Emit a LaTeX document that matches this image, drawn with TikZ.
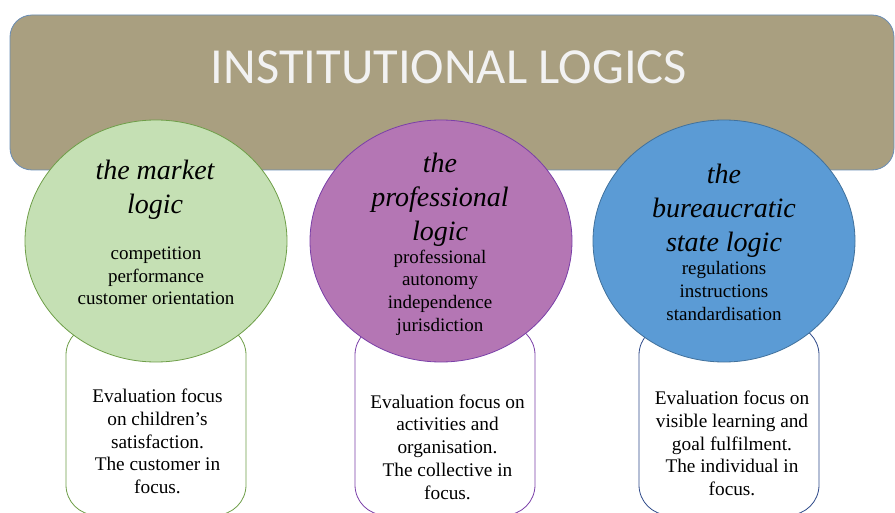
\documentclass[tikz,border=0pt]{standalone}
\usepackage{fontspec}
\setmainfont{Liberation Serif}
\newfontfamily\titlefont{Carlito}
\usetikzlibrary{shapes.geometric}
\definecolor{bannerfill}{HTML}{A99F80}
\definecolor{bannerline}{HTML}{6A8DB5}
\definecolor{greenfill}{HTML}{C5E0B4}
\definecolor{greenline}{HTML}{6E9E48}
\definecolor{purplefill}{HTML}{B476B4}
\definecolor{purpleline}{HTML}{7A3FA8}
\definecolor{bluefill}{HTML}{5B9BD5}
\definecolor{blueline}{HTML}{41719C}
\definecolor{boxblueline}{HTML}{2F4A8A}
\definecolor{titlecol}{HTML}{F2F2F2}
\tikzset{
  bannerbox/.style={draw=bannerline, fill=bannerfill, line width=0.8pt, rounded corners=22pt, minimum width=884pt, minimum height=155pt, inner sep=0pt},
  logiccircle/.style={ellipse, minimum width=262pt, minimum height=242pt, line width=0.8pt, inner sep=0pt},
  focusbox/.style={draw, fill=white, rounded corners=30pt, minimum width=180pt, minimum height=190pt, line width=0.8pt, inner sep=0pt},
  headtext/.style={align=center, font=\itshape\fontsize{28}{34}\selectfont, inner sep=0pt},
  listtext/.style={align=center, font=\fontsize{19}{22.6}\selectfont, inner sep=0pt},
  boxtext/.style={align=center, font=\fontsize{19.3}{22.7}\selectfont, inner sep=0pt}
}
\begin{document}
\begin{tikzpicture}[x=1pt,y=-1pt]
\useasboundingbox (0,0) rectangle (895,513);
\node[bannerbox] (banner) at (452,92.5) {};
\node[text=titlecol, font=\titlefont\fontsize{50.5}{55}\selectfont, inner sep=0pt] (title) at (449,67) {INSTITUTIONAL LOGICS};
% boxes
\node[focusbox, draw=greenline] (boxA) at (156,420) {};
\node[focusbox, draw=purpleline] (boxB) at (445,420) {};
\node[focusbox, draw=boxblueline] (boxC) at (729,420) {};
% circles
\node[logiccircle, draw=greenline, fill=greenfill] (circA) at (156,241) {};
\node[logiccircle, draw=purpleline, fill=purplefill] (circB) at (441,241) {};
\node[logiccircle, draw=blueline, fill=bluefill] (circC) at (724,241) {};
% circle texts
\node[headtext] (headA) at (155,189.5) {the market\\logic};
\node[listtext] (listA) at (156,276) {competition\\performance\\customer orientation};
\node[headtext] (headB) at (440,199.5) {the\\professional\\logic};
\node[listtext] (listB) at (440,292.5) {professional\\autonomy\\independence\\jurisdiction};
\node[headtext] (headC) at (724,211) {the\\bureaucratic\\state logic};
\node[listtext] (listC) at (724,291) {regulations\\instructions\\standardisation};
% box texts
\node[boxtext] (textA) at (157.5,441.5) {Evaluation focus\\on children’s\\satisfaction.\\The customer in\\focus.};
\node[boxtext] (textB) at (447.5,447) {Evaluation focus on\\activities and\\organisation.\\The collective in\\focus.};
\node[boxtext] (textC) at (732,443.5) {Evaluation focus on\\visible learning and\\goal fulfilment.\\The individual in\\focus.};
\end{tikzpicture}
\end{document}
